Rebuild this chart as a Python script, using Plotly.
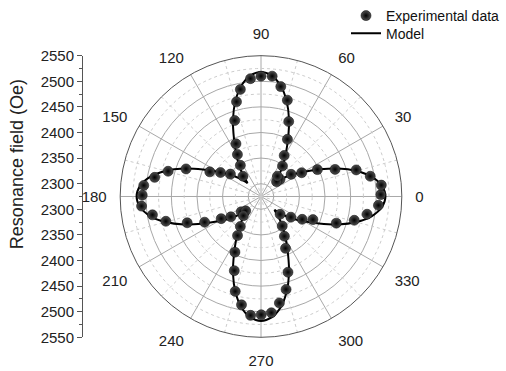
import plotly.graph_objects as go

# ---------------- data ----------------
exp_theta = [0.9, 5.4, 10.5, 15.6, 20.1, 25.5, 30.3, 36.3, 42.0, 43.7, 51.0, 54.9,
             60.5, 65.2, 69.7, 74.7, 79.8, 84.7, 90.0, 95.1, 100.9, 104.5, 109.1,
             115.4, 119.3, 123.5, 131.7, 143.8, 149.4, 154.3, 159.8, 164.8, 169.8,
             174.6, 179.4, 184.6, 189.6, 194.6, 199.6, 204.5, 209.1, 214.0, 217.7,
             223.2, 227.5, 235.4, 239.0, 244.9, 250.2, 254.8, 259.8, 265.0, 270.1,
             275.1, 279.8, 285.1, 289.6, 295.3, 300.5, 305.7, 317.0, 325.3, 331.0,
             336.0, 340.5, 345.7, 350.5, 355.7]
exp_field = [2509, 2511, 2492, 2468, 2429, 2397, 2367, 2348, 2325, 2317, 2326, 2348,
             2367, 2398, 2431, 2470, 2493, 2511, 2510, 2506, 2488, 2466, 2432,
             2389, 2369, 2348, 2328, 2349, 2367, 2386, 2431, 2463, 2486,
             2505, 2507, 2509, 2490, 2467, 2428, 2396, 2364, 2346, 2324,
             2316, 2326, 2346, 2364, 2395, 2429, 2467, 2490, 2508, 2506,
             2503, 2486, 2463, 2432, 2387, 2365, 2346, 2326, 2346, 2367,
             2386, 2431, 2463, 2485, 2505]

model_theta = list(range(0, 361, 5))
model_field = [2518, 2512, 2495, 2468, 2435, 2400, 2372, 2350, 2330, 2312,
               2330, 2350, 2372, 2400, 2435, 2468, 2495, 2512, 2518, 2512,
               2495, 2468, 2435, 2400, 2372, 2350, 2330, 2312, 2330, 2350,
               2372, 2400, 2435, 2468, 2495, 2512, 2518, 2512, 2495, 2468,
               2435, 2400, 2372, 2350, 2330, 2312, 2330, 2350, 2372, 2400,
               2435, 2468, 2495, 2512, 2518, 2512, 2495, 2468, 2435, 2400,
               2372, 2350, 2330, 2312, 2330, 2350, 2372, 2400, 2435, 2468,
               2495, 2512, 2518]

angle_ticks = [0, 30, 60, 90, 120, 150, 180, 210, 240, 270, 300, 330]
field_ticks = [2300, 2350, 2400, 2450, 2500, 2550]

# ---------------- layout constants ----------------
R_MIN, R_MAX = 2275, 2550
W, H = 506, 371
FONT = "Arial, Liberation Sans, sans-serif"
GRID = "#a8a8a8"
MINOR = "#cccccc"
TOP, BOT = 48, 344  # pixel rows of the polar circle

fig = go.Figure()

# minor dotted grid (circles and spokes)
circ_theta = list(range(0, 361, 2))
for rv in range(field_ticks[0] + 25, field_ticks[-1], 50):
    fig.add_trace(go.Scatterpolar(r=[rv] * len(circ_theta), theta=circ_theta, mode="lines",
                                  line=dict(color=MINOR, width=1, dash="dot"),
                                  hoverinfo="skip", showlegend=False))
for a in range(15, 360, 30):
    fig.add_trace(go.Scatterpolar(r=[R_MIN, R_MAX], theta=[a, a], mode="lines",
                                  line=dict(color=MINOR, width=1, dash="dot"),
                                  hoverinfo="skip", showlegend=False))

# model curve, split at the cusps
lookup = dict(zip(model_theta, model_field))
first = True
for start in (45, 135, 225, 315):
    th = [start + 5 * k for k in range(19)]
    rr = [lookup[t % 360] for t in th]
    fig.add_trace(go.Scatterpolar(r=rr, theta=th, mode="lines", name="Model",
                                  line=dict(color="black", width=2, shape="spline", smoothing=1),
                                  showlegend=first, legend="legend2"))
    first = False

# experimental points
fig.add_trace(go.Scatterpolar(r=exp_field, theta=exp_theta, mode="markers",
                              name="Experimental data", legend="legend",
                              marker=dict(size=10, color="#505050",
                                          gradient=dict(type="radial", color="#000000"),
                                          line=dict(width=0.5, color="#000"))))

# left mirrored radial scale
span = R_MAX - R_MIN
ytv = [t - R_MIN for t in field_ticks] + [-(t - R_MIN) for t in field_ticks]
ytt = [str(t) for t in field_ticks] * 2
yminor = sorted(set([v - 25 for v in ytv if v > 0] + [v + 25 for v in ytv if v < 0]))
fig.add_trace(go.Scatter(x=[0, 0], y=[-span, span], mode="markers",
                         marker=dict(opacity=0), hoverinfo="skip", showlegend=False))

leg_common = dict(xanchor="left", yanchor="top", bgcolor="rgba(0,0,0,0)",
                  font=dict(size=14, color="#111"), itemwidth=30)

fig.update_layout(
    width=W, height=H,
    margin=dict(l=0, r=0, t=0, b=0),
    paper_bgcolor="white", plot_bgcolor="rgba(0,0,0,0)",
    font=dict(family=FONT, size=15, color="#222"),
    showlegend=True,
    legend=dict(x=346 / W, y=1 + 11 / H, **leg_common),
    legend2=dict(x=346 / W, y=1 - 8 / H, **leg_common),
    polar=dict(
        domain=dict(x=[113 / W, 409 / W], y=[1 - BOT / H, 1 - TOP / H]),
        bgcolor="white",
        radialaxis=dict(range=[R_MIN, R_MAX], tickmode="array", tickvals=field_ticks,
                        showticklabels=False, ticks="", showline=False,
                        gridcolor=GRID, gridwidth=1),
        angularaxis=dict(rotation=0, direction="counterclockwise",
                         tickmode="array", tickvals=angle_ticks,
                         ticktext=[str(a) for a in angle_ticks],
                         tickfont=dict(size=15, color="#222"),
                         ticks="outside", ticklen=10, tickcolor="rgba(0,0,0,0)",
                         showline=True, linecolor="#555", linewidth=1,
                         gridcolor=GRID, gridwidth=1),
    ),
    xaxis=dict(domain=[83 / W, 90 / W], range=[0, 1], visible=False),
    yaxis=dict(domain=[1 - BOT / H, 1 - TOP / H], range=[-span, span],
               tickmode="array", tickvals=ytv, ticktext=ytt,
               ticks="outside", ticklen=5, tickwidth=1, tickcolor="#555",
               showline=True, linecolor="#555", linewidth=1,
               showgrid=False, zeroline=False,
               tickfont=dict(size=15, color="#222"),
               minor=dict(tickmode="array", tickvals=yminor,
                          ticks="outside", ticklen=3, tickcolor="#555", showgrid=False)),
    annotations=[dict(text="Resonance field (Oe)", x=17 / W, y=1 - 162 / H,
                      xref="paper", yref="paper", textangle=-90, showarrow=False,
                      xanchor="center", yanchor="middle",
                      font=dict(size=18, color="#222", family=FONT))],
)

fig.write_html("out.html")
